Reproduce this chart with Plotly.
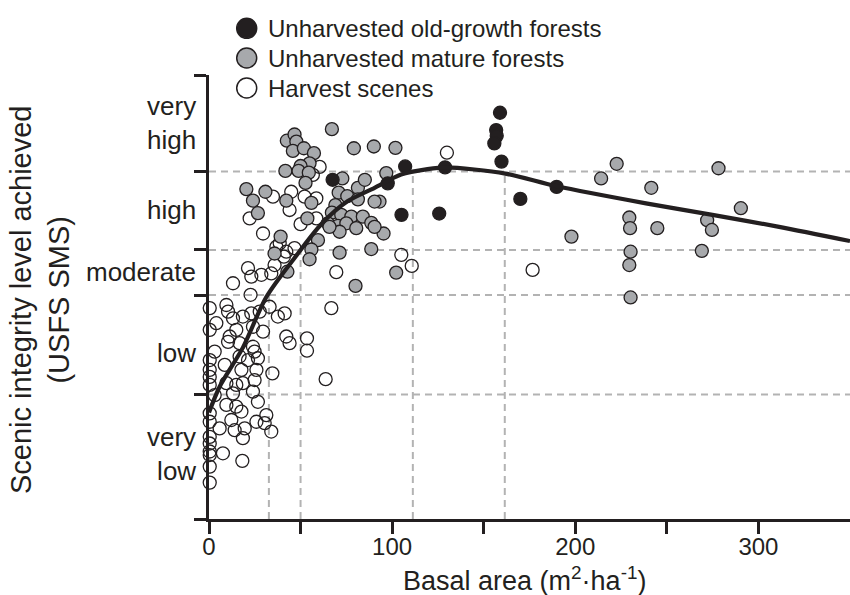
import plotly.graph_objects as go

# ---------------- data ----------------
# Unharvested old-growth forests
og_x = [67.5, 97.6, 107.1, 105.1, 125.7, 128.9, 158.9, 156.8, 157.1, 155.8, 159.7, 170.0, 189.8]
og_y = [76.4, 75.6, 79.4, 68.5, 68.8, 79.2, 91.5, 87.6, 86.3, 84.6, 80.5, 72.1, 74.8]

# Unharvested mature forests
mat_x = [101.8, 96.8, 93.1, 95.3, 102.2, 197.9, 214.1, 222.6, 229.5, 229.9, 230.2, 229.5, 230.2,
         241.5, 244.8, 269.1, 272.0, 274.6, 278.2, 290.4,
         67.1, 79.1, 90.0, 42.5, 46.7, 47.7, 45.8, 51.8, 57.3, 54.9, 50.0, 41.7, 48.9, 54.5,
         52.7, 20.4, 24.0, 30.8, 26.7, 42.2, 55.9, 53.7, 72.8, 70.8, 75.5, 81.3, 85.1, 81.3,
         90.4, 69.0, 67.1, 72.2, 77.7, 84.0, 88.6, 64.9, 70.4, 75.0, 80.4, 90.4, 71.3, 65.8,
         59.5, 55.9, 54.9, 39.1, 35.8, 42.8, 71.3, 88.6, 80.0]
mat_y = [83.6, 77.9, 71.5, 64.3, 55.5, 63.6, 76.7, 80.0, 67.9, 65.5, 60.2, 57.2, 49.9,
         74.6, 65.5, 60.4, 67.3, 65.1, 79.0, 70.0,
         87.8, 83.5, 83.9, 85.2, 86.6, 85.0, 82.9, 83.5, 82.4, 80.1, 79.5, 78.4, 78.4, 78.0,
         75.7, 74.3, 71.7, 73.7, 68.9, 71.7, 71.2, 67.7, 76.7, 73.5, 72.7, 74.6, 76.4, 72.0,
         71.5, 70.7, 69.0, 68.5, 68.1, 68.1, 66.7, 66.6, 66.0, 66.6, 65.5, 65.8, 64.7, 65.8,
         62.8, 60.7, 58.5, 63.6, 59.8, 55.7, 60.0, 60.8, 52.5]

# Harvest scenes
harv_x = [60.4, 56.7, 44.9, 34.9, 44.0, 52.2, 58.6, 22.2, 29.5, 50.0, 58.6, 38.6, 42.2, 46.7,
          21.3, 23.1, 28.6, 34.0, 35.8, 13.1, 22.7, 105.0, 110.7, 69.5, 129.9, 176.7, 36.8, 40.9,
          0.4, 9.5, 10.4, 13.1, 18.5, 23.1, 27.7, 33.1, 37.6, 41.3, 66.8, 4.0, 0.4, 14.9, 29.5,
          24.0, 11.3, 10.4, 16.7, 24.0, 42.2, 44.0, 53.5, 53.5, 3.1, 0.4, 8.6, 16.7, 21.3, 26.7,
          24.9, 0.4, 0.4, 17.7, 25.9, 34.6, 24.9, 0.4, 9.5, 14.9, 18.5, 13.1, 24.0, 3.1, 26.7,
          9.5, 14.9, 17.7, 0.4, 0.4, 12.2, 25.9, 31.3, 30.4, 5.8, 14.0, 19.5, 34.0, 18.5, 0.4,
          0.4, 0.4, 0.4, 7.6, 0.4, 18.2, 0.4, 63.7]
harv_y = [79.3, 77.5, 73.7, 72.6, 69.6, 72.6, 72.2, 67.7, 64.3, 66.4, 67.7, 62.1, 60.2, 61.0,
          56.5, 54.6, 55.0, 55.3, 57.2, 53.1, 50.5, 59.5, 57.0, 55.6, 82.5, 56.1, 61.3, 59.1,
          47.5, 48.2, 46.7, 45.2, 45.6, 46.3, 46.7, 47.8, 45.6, 46.3, 47.5, 44.1, 42.6, 42.6, 42.2,
          43.3, 41.1, 39.9, 39.6, 38.8, 41.1, 39.6, 40.7, 37.9, 37.7, 35.8, 34.7, 36.6, 35.8, 36.2,
          37.7, 33.6, 32.0, 33.6, 33.6, 32.8, 31.3, 30.2, 30.6, 30.2, 30.6, 28.3, 28.7, 27.9, 26.4,
          25.7, 25.3, 24.2, 23.8, 21.9, 22.3, 21.9, 23.4, 21.6, 20.4, 20.0, 20.4, 19.7, 18.2, 18.5,
          17.0, 15.2, 14.4, 14.8, 11.8, 13.1, 8.2, 31.5]

# Fitted curve
curve_x = [0, 5.8, 18.5, 31.3, 46.7, 61.3, 75.8, 90.4, 104.9, 119.3, 129.5, 161.8, 189.5,
           238.6, 274.9, 311.3, 350]
curve_y = [24.0, 29.8, 38.6, 50.0, 58.8, 66.4, 71.6, 74.6, 77.6, 78.8, 79.2, 77.8, 75.0,
           71.1, 68.5, 65.8, 62.6]

# Axes / levels
x_ticks = [0, 100, 200, 300]
x_tick_labels = ["0", "100", "200", "300"]
x_minor_ticks = [50, 150, 250]
level_bounds = [0, 28.04, 50.45, 60.59, 78.27, 100]
level_labels = ["very<br>low", "low", "moderate", "high", "very<br>high"]
level_label_y = [14.6, 37.4, 55.6, 69.6, 89.1]
grid_y = [28.04, 50.45, 60.59, 78.27]
cut_x = [32.7, 50.0, 111.3, 161.5]
cut_y = [50.45, 60.59, 78.27, 78.27]

legend_names = ["Unharvested old-growth forests", "Unharvested mature forests", "Harvest scenes"]

# ---------------- styling ----------------
INK = "#231f20"
GRAY = "#a7a9ac"
GRID = "#b3b3b3"
FONT = "Liberation Sans, Arial, sans-serif"
fills = ["#231f20", GRAY, "#ffffff"]

fig = go.Figure()

def marker(fill):
    return dict(size=13, color=fill, line=dict(color=INK, width=1.3), symbol="circle")

fig.add_trace(go.Scatter(x=harv_x, y=harv_y, mode="markers", marker=marker("rgba(255,255,255,0)"),
                         name=legend_names[2], cliponaxis=False, showlegend=False))
fig.add_trace(go.Scatter(x=mat_x, y=mat_y, mode="markers", marker=marker(GRAY),
                         name=legend_names[1], cliponaxis=False, showlegend=False))
fig.add_trace(go.Scatter(x=og_x, y=og_y, mode="markers", marker=marker(INK),
                         name=legend_names[0], cliponaxis=False, showlegend=False))
fig.add_trace(go.Scatter(x=curve_x, y=curve_y, mode="lines",
                         line=dict(color=INK, width=4.2, shape="spline", smoothing=0.8),
                         showlegend=False, hoverinfo="skip"))

shapes = []
for gy in grid_y:
    shapes.append(dict(type="line", xref="paper", yref="y", x0=0, x1=1, y0=gy, y1=gy,
                       line=dict(color=GRID, width=2, dash="7px,5px"), layer="below"))
for cx, cy in zip(cut_x, cut_y):
    shapes.append(dict(type="line", xref="x", yref="y", x0=cx, x1=cx, y0=0, y1=cy,
                       line=dict(color=GRID, width=2, dash="7px,5px"), layer="below"))

# custom legend (paper coords: plot area 641 x 444 px)
PW, PH = 641.0, 444.0
leg_cx = (246.7 - 209) / PW
leg_rows = [(519 - 28.3) / PH, (519 - 58.0) / PH, (519 - 88.0) / PH]
rx, ry = 10 / PW, 10 / PH
annotations = []
for name, fill, ly in zip(legend_names, fills, leg_rows):
    shapes.append(dict(type="circle", xref="paper", yref="paper",
                       x0=leg_cx - rx, x1=leg_cx + rx, y0=ly - ry, y1=ly + ry,
                       fillcolor=fill, line=dict(color=INK, width=1.5), layer="above"))
    annotations.append(dict(xref="paper", yref="paper", x=(266 - 209) / PW, y=ly,
                            xanchor="left", yanchor="middle", showarrow=False, text=name,
                            font=dict(size=24, color=INK, family=FONT)))

for lab, ly in zip(level_labels, level_label_y):
    annotations.append(dict(xref="paper", yref="y", x=(198 - 209) / PW, y=ly,
                            xanchor="right", yanchor="middle", align="right", showarrow=False,
                            text=lab, font=dict(size=26, color=INK, family=FONT)))

annotations.append(dict(xref="paper", yref="paper", x=(40 - 209) / PW, y=(519 - 300) / PH,
                        xanchor="center", yanchor="middle", textangle=-90, showarrow=False,
                        text="Scenic integrity level achieved<br>(USFS SMS)",
                        font=dict(size=29, color=INK, family=FONT)))
annotations.append(dict(xref="paper", yref="paper", x=(524 - 209) / PW, y=(519 - 578.5) / PH,
                        xanchor="center", yanchor="middle", showarrow=False,
                        text="Basal area (m<sup>2</sup>·ha<sup>-1</sup>)",
                        font=dict(size=27, color=INK, family=FONT)))

fig.update_layout(
    width=850, height=595, autosize=False,
    margin=dict(l=209, r=0, t=75, b=76, pad=0),
    plot_bgcolor="white", paper_bgcolor="white",
    font=dict(family=FONT, color=INK),
    shapes=shapes, annotations=annotations, showlegend=False,
    xaxis=dict(range=[0, 350], tickmode="array", tickvals=x_ticks, ticktext=x_tick_labels,
               ticks="outside", ticklen=12, tickwidth=2.5, tickcolor=INK, ticklabelstandoff=-8,
               minor=dict(tickmode="array", tickvals=x_minor_ticks, ticks="outside",
                          ticklen=12, tickwidth=2.5, tickcolor=INK, showgrid=False),
               showline=True, linecolor=INK, linewidth=2.5, showgrid=False, zeroline=False,
               tickfont=dict(size=24, color=INK, family=FONT)),
    yaxis=dict(range=[0, 100], tickmode="array", tickvals=level_bounds,
               showticklabels=False,
               ticks="outside", ticklen=12, tickwidth=2.5, tickcolor=INK,
               showline=True, linecolor=INK, linewidth=2.5, showgrid=False, zeroline=False),
)

fig.write_html("out.html")
